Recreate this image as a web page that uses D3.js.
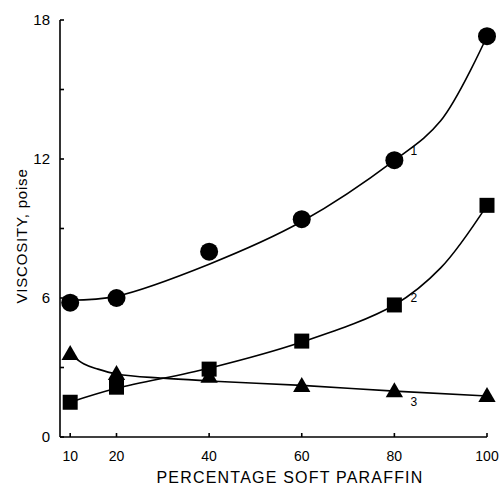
<!DOCTYPE html>
<html lang="en">
  <head>
    <meta charset="UTF-8" />
    <title>Viscosity vs soft paraffin</title>
    <style>
      body { margin: 0; background: #fff; }
      text { font-family: "Liberation Sans", Arial, sans-serif; fill: #000; }
    </style>
  </head>
  <body>
    <svg id="chart" width="500" height="485"></svg>

    <script src="https://d3js.org/d3.v7.min.js"></script>
    <script>
      // measured points (percentage soft paraffin -> viscosity, poise)
      const percent = [10, 20, 40, 60, 80, 100];
      const circleVals = [5.8, 6.0, 8.0, 9.4, 11.95, 17.3];
      const squareVals = [1.5, 2.15, 2.93, 4.14, 5.7, 10.0];
      const triangleVals = [3.58, 2.72, 2.6, 2.2, 1.98, 1.77];

      // fitted curves
      const curve1X = [10, 20, 40, 60, 80, 90, 100];
      const curve1Y = [5.9, 6.08, 7.46, 9.3, 11.94, 13.65, 17.3];
      const curve2X = [10, 20, 40, 60, 80, 90, 100];
      const curve2Y = [1.5, 2.1, 2.97, 4.1, 5.7, 7.3, 10.0];
      const curve3X = [10, 13, 16, 20, 30, 40, 60, 80, 100];
      const curve3Y = [3.58, 3.15, 2.93, 2.72, 2.54, 2.42, 2.23, 1.98, 1.77];

      const xTicks = [10, 20, 40, 60, 80, 100];
      const yTicks = [0, 6, 12, 18];
      const yMinor = [3, 9, 15];

      const svg = d3.select("#chart");

      const x = d3.scaleLinear().domain([7.8, 100]).range([60, 487]);
      const y = d3.scaleLinear().domain([0, 18]).range([437, 20]);

      // axes, ticks point inward
      const axes = svg.append("g").attr("stroke", "#000").attr("stroke-width", 1.6);
      axes.append("line").attr("x1", x(7.8)).attr("x2", x(100)).attr("y1", y(0)).attr("y2", y(0));
      axes.append("line").attr("x1", x(7.8)).attr("x2", x(7.8)).attr("y1", y(0)).attr("y2", y(18));

      axes.selectAll(".xt").data(xTicks).enter().append("line")
        .attr("x1", (d) => x(d)).attr("x2", (d) => x(d))
        .attr("y1", y(0)).attr("y2", y(0) - 4);
      axes.selectAll(".yt").data(yTicks.concat(yMinor)).enter().append("line")
        .attr("x1", x(7.8)).attr("x2", x(7.8) + 4)
        .attr("y1", (d) => y(d)).attr("y2", (d) => y(d));

      svg.selectAll(".xl").data(xTicks).enter().append("text")
        .attr("x", (d) => x(d)).attr("y", 461)
        .attr("text-anchor", "middle").attr("font-size", 14)
        .text((d) => d);
      svg.selectAll(".yl").data(yTicks).enter().append("text")
        .attr("x", 50).attr("y", (d) => y(d) + 5)
        .attr("text-anchor", "end").attr("font-size", 15)
        .text((d) => d);

      svg.append("text")
        .attr("x", 290).attr("y", 483)
        .attr("text-anchor", "middle").attr("font-size", 16)
        .attr("letter-spacing", 1.2)
        .text("PERCENTAGE SOFT PARAFFIN");
      svg.append("text")
        .attr("transform", "translate(27,236) rotate(-90)")
        .attr("text-anchor", "middle").attr("font-size", 15)
        .attr("letter-spacing", 0.8)
        .text("VISCOSITY, poise");

      // curves
      const smooth = d3.line()
        .x((d) => x(d[0]))
        .y((d) => y(d[1]))
        .curve(d3.curveCatmullRom.alpha(0.5));
      const mono = d3.line()
        .x((d) => x(d[0]))
        .y((d) => y(d[1]))
        .curve(d3.curveMonotoneX);

      [[curve1X, curve1Y, smooth], [curve2X, curve2Y, smooth], [curve3X, curve3Y, mono]].forEach((c) => {
        svg.append("path")
          .datum(d3.zip(c[0], c[1]))
          .attr("d", c[2])
          .attr("fill", "none")
          .attr("stroke", "#000")
          .attr("stroke-width", 1.6);
      });

      // markers
      svg.selectAll(".circ").data(d3.zip(percent, circleVals)).enter().append("circle")
        .attr("cx", (d) => x(d[0])).attr("cy", (d) => y(d[1])).attr("r", 9);

      svg.selectAll(".sq").data(d3.zip(percent, squareVals)).enter().append("rect")
        .attr("x", (d) => x(d[0]) - 7.5).attr("y", (d) => y(d[1]) - 7.5)
        .attr("width", 15).attr("height", 15);

      const tri = d3.symbol().type(d3.symbolTriangle).size(130);
      svg.selectAll(".tri").data(d3.zip(percent, triangleVals)).enter().append("path")
        .attr("d", tri)
        .attr("transform", (d) => `translate(${x(d[0])},${y(d[1]) + 1})`);

      // curve numbers
      const labels = [["1", 80, 11.94, 16, -5], ["2", 80, 5.7, 16, -3], ["3", 80, 1.98, 16, 15]];
      svg.selectAll(".num").data(labels).enter().append("text")
        .attr("x", (d) => x(d[1]) + d[3]).attr("y", (d) => y(d[2]) + d[4])
        .attr("font-size", 12)
        .text((d) => d[0]);
    </script>
  </body>
</html>
